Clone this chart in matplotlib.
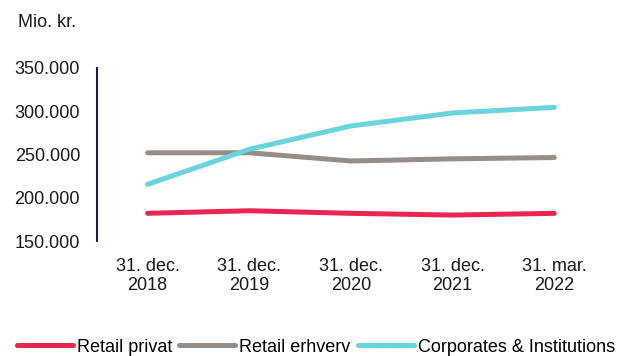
import matplotlib
matplotlib.use("Agg")
import matplotlib.pyplot as plt

plt.rcParams['font.family'] = ['Liberation Sans', 'DejaVu Sans']

# Data
periods = ["31. dec.\n2018", "31. dec.\n2019", "31. dec.\n2020", "31. dec.\n2021", "31. mar.\n2022"]
retail_privat = [182000, 185000, 182000, 180000, 182000]
retail_erhverv = [252000, 252000, 242500, 245000, 246500]
corporates = [215500, 256000, 283000, 298000, 304500]
yticks = [150000, 200000, 250000, 300000, 350000]

fig = plt.figure(figsize=(6.41, 3.56), dpi=100)
ax = fig.add_axes([0.151, 0.323, 0.793, 0.486])

x = range(len(periods))
ax.plot(x, retail_privat, color="#E8264F", lw=3.6, solid_capstyle="round", label="Retail privat")
ax.plot(x, retail_erhverv, color="#958E86", lw=3.6, solid_capstyle="round", label="Retail erhverv")
ax.plot(x, corporates, color="#6AD3DE", lw=3.6, solid_capstyle="round", label="Corporates & Institutions")

ax.set_xlim(-0.5, 4.5)
ax.set_ylim(150000, 350000)
ax.set_yticks(yticks)
ax.set_yticklabels([f"{v:,}".replace(",", ".") for v in yticks])
ax.set_xticks(list(x))
ax.set_xticklabels(periods, linespacing=1.15)

for s in ["top", "right", "bottom"]:
    ax.spines[s].set_visible(False)
ax.spines["left"].set_color("#1A1A5E")
ax.spines["left"].set_linewidth(1.5)
ax.tick_params(axis="both", length=0, labelsize=13, colors="#1a1a1a")
ax.tick_params(axis="y", pad=12)
ax.tick_params(axis="x", pad=12)

fig.text(0.028, 0.937, "Mio. kr.", fontsize=13, color="#1a1a1a", va="center")

fig.legend(loc="center left", bbox_to_anchor=(0.026, 0.025), ncol=3, frameon=False,
           fontsize=13, handlelength=3.1, handletextpad=0.22, columnspacing=0.4,
           borderaxespad=0, borderpad=0)

fig.savefig("out.png", dpi=100)
